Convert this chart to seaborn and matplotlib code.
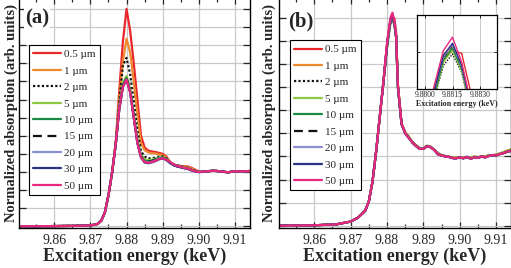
#XAS spectra, grain size comparison (a) and (b) with inset

import numpy as np
import pandas as pd
import seaborn as sns
import matplotlib
matplotlib.use('Agg')
import matplotlib.pyplot as plt
from matplotlib.ticker import MultipleLocator, FormatStrFormatter

sns.set_style('ticks')
plt.rcParams['font.family'] = ['Liberation Serif', 'DejaVu Serif']

sizes = ['0.5 µm', '1 µm', '2 µm', '5 µm', '10 µm', '15 µm', '20 µm', '30 µm', '50 µm']
colors = ['#e8262c', '#f0892e', '#111111', '#8dc63f', '#1b8a44', '#111111', '#8a8fd2', '#2c3282', '#e8287c']
dash_list = ['', '', (1, 1), '', '', (4, 2.5), '', '', '']

# panel (a): energies (keV)
xa_rise = [9.850, 9.855, 9.860, 9.865, 9.868, 9.870, 9.871, 9.872, 9.873, 9.874, 9.875, 9.876]
xa_mid = [9.877, 9.878, 9.879, 9.880, 9.881, 9.882, 9.883, 9.884, 9.885, 9.886, 9.887, 9.888,
          9.889, 9.890, 9.891, 9.892, 9.893, 9.894, 9.895, 9.896, 9.897, 9.898, 9.899, 9.900]
xa_tail = [9.902, 9.904, 9.906, 9.908, 9.910, 9.912, 9.914]

a_rise = [0.0, 0.0, 0.01, 0.02, 0.03, 0.05, 0.08, 0.13, 0.3, 0.75, 1.7, 2.95]
a_tail = [3.03, 3.07, 3.03, 2.98, 3.04, 3.03, 3.05]
a_05 = [4.6, 7.5, 10.2, 12.0, 10.8, 9.0, 7.0, 5.0, 4.35, 4.18, 4.13, 4.1, 4.05, 4.0, 3.85, 3.56, 3.42, 3.36, 3.33, 3.31, 3.3, 3.22, 3.12, 3.03]
a_1 = [4.55, 7.1, 9.1, 10.35, 9.6, 8.0, 6.2, 4.6, 4.2, 4.08, 4.04, 4.02, 3.97, 3.93, 3.8, 3.52, 3.4, 3.34, 3.31, 3.29, 3.26, 3.18, 3.09, 3.02]
a_2 = [4.5, 6.9, 8.9, 9.3, 8.4, 6.9, 5.3, 4.15, 3.85, 3.75, 3.75, 3.8, 3.85, 3.86, 3.75, 3.55, 3.42, 3.36, 3.31, 3.26, 3.21, 3.13, 3.06, 3.0]
a_5 = [4.5, 6.6, 7.9, 8.3, 7.6, 6.2, 4.8, 3.95, 3.7, 3.65, 3.68, 3.74, 3.8, 3.82, 3.72, 3.52, 3.4, 3.33, 3.29, 3.24, 3.19, 3.11, 3.05, 3.0]
a_10 = [4.5, 6.55, 7.8, 8.2, 7.5, 6.1, 4.7, 3.88, 3.62, 3.58, 3.62, 3.7, 3.78, 3.8, 3.7, 3.5, 3.38, 3.31, 3.27, 3.22, 3.18, 3.1, 3.04, 3.0]
a_15 = [4.5, 6.5, 7.75, 8.15, 7.45, 6.05, 4.65, 3.85, 3.6, 3.56, 3.6, 3.68, 3.76, 3.78, 3.69, 3.5, 3.38, 3.31, 3.27, 3.22, 3.18, 3.1, 3.04, 3.0]
a_20 = [4.48, 6.5, 7.7, 8.1, 7.4, 6.0, 4.6, 3.82, 3.56, 3.52, 3.57, 3.64, 3.73, 3.76, 3.68, 3.52, 3.4, 3.31, 3.26, 3.21, 3.17, 3.09, 3.03, 2.99]
a_30 = [4.48, 6.45, 7.7, 8.1, 7.4, 6.0, 4.6, 3.8, 3.52, 3.48, 3.53, 3.6, 3.7, 3.74, 3.66, 3.5, 3.38, 3.3, 3.25, 3.2, 3.16, 3.08, 3.02, 2.99]
a_50 = [4.5, 6.5, 7.7, 8.1, 7.4, 6.0, 4.6, 3.8, 3.55, 3.5, 3.55, 3.62, 3.72, 3.75, 3.68, 3.55, 3.42, 3.33, 3.28, 3.22, 3.18, 3.1, 3.04, 3.0]

# panel (b): energies (keV)
xb_rise = [9.850, 9.860, 9.866, 9.870, 9.872, 9.874, 9.875, 9.876, 9.877, 9.878, 9.879]
xb_peak = [9.8800, 9.8805, 9.8810, 9.8815, 9.8820, 9.8825, 9.8830, 9.8840]
xb_tail = [9.885, 9.886, 9.887, 9.888, 9.889, 9.890, 9.891, 9.892, 9.893, 9.894,
           9.895, 9.896, 9.897, 9.898, 9.899, 9.900, 9.901, 9.902, 9.903, 9.904,
           9.905, 9.906, 9.907, 9.908, 9.909, 9.910, 9.911, 9.912, 9.913, 9.914]

b_rise = [0.0, 0.02, 0.06, 0.18, 0.35, 0.65, 1.05, 1.9, 3.2, 4.7, 6.2]
b_tail = [4.0, 3.8, 3.6, 3.45, 3.33, 3.33, 3.44, 3.4, 3.28, 3.1, 3.04, 3.0, 2.98, 2.93, 2.92,
          2.96, 2.92, 2.98, 2.9, 2.96, 2.94, 3.0, 2.96, 3.02, 3.06, 3.04, 3.1, 3.14, 3.2, 3.24]
b_tail_alt = [4.05, 3.85, 3.62, 3.48, 3.36, 3.36, 3.46, 3.42, 3.3, 3.14, 3.06, 3.02, 2.99, 2.95, 2.95,
              2.93, 2.96, 2.94, 2.95, 2.99, 2.97, 2.98, 3.0, 3.05, 3.04, 3.08, 3.12, 3.18, 3.24, 3.3]
b_05 = [7.8, 8.4, 8.88, 9.02, 8.98, 8.4, 6.1, 4.4]
b_1 = [7.8, 8.45, 8.92, 9.08, 8.8, 8.2, 6.1, 4.45]
b_2 = [7.7, 8.3, 8.8, 8.97, 8.7, 8.1, 6.0, 4.4]
b_5 = [7.7, 8.3, 8.85, 9.03, 8.72, 8.15, 6.0, 4.4]
b_10 = [7.75, 8.35, 8.88, 9.06, 8.75, 8.2, 6.0, 4.4]
b_15 = [7.8, 8.4, 8.92, 9.1, 8.78, 8.2, 6.0, 4.4]
b_20 = [7.8, 8.4, 8.93, 9.11, 8.78, 8.2, 6.0, 4.4]
b_30 = [7.8, 8.42, 8.95, 9.13, 8.8, 8.22, 6.0, 4.4]
b_50 = [7.9, 8.5, 9.02, 9.22, 8.85, 8.25, 6.1, 4.42]

a_mid_all = [a_05, a_1, a_2, a_5, a_10, a_15, a_20, a_30, a_50]
b_peak_all = [b_05, b_1, b_2, b_5, b_10, b_15, b_20, b_30, b_50]
b_tail_all = [b_tail_alt, b_tail_alt, b_tail, b_tail_alt, b_tail, b_tail, b_tail, b_tail, b_tail]

rows_a = []
rows_b = []
for i, s in enumerate(sizes):
    ya = a_rise + a_mid_all[i] + a_tail
    for e, v in zip(xa_rise + xa_mid + xa_tail, ya):
        rows_a.append([s, e, v])
    yb = b_rise + b_peak_all[i] + b_tail_all[i]
    for e, v in zip(xb_rise + xb_peak + xb_tail, yb):
        rows_b.append([s, e, v])
df_a = pd.DataFrame(rows_a, columns=['size', 'energy', 'absorption'])
df_b = pd.DataFrame(rows_b, columns=['size', 'energy', 'absorption'])

palette = dict(zip(sizes, colors))
dashes = dict(zip(sizes, dash_list))

fig = plt.figure(figsize=(5.11, 2.68), dpi=100)
ax_a = fig.add_axes([0.0372, 0.149, 0.452, 0.858])
ax_b = fig.add_axes([0.546, 0.149, 0.454, 0.858])


def style_axes(ax, ymax, label, lab_x, lab_top, ylab_x):
    ax.set_xlim(9.8503, 9.9141)
    ax.set_ylim(-0.1, ymax)
    ax.xaxis.set_major_locator(MultipleLocator(0.01))
    ax.xaxis.set_minor_locator(MultipleLocator(0.005))
    ax.xaxis.set_major_formatter(FormatStrFormatter('%.2f'))
    ax.yaxis.set_major_locator(MultipleLocator(1))
    ax.set_yticklabels([])
    ax.tick_params(which='both', direction='in', top=True, right=True, width=0.9)
    ax.tick_params(axis='x', which='major', length=4, labelsize=10, pad=4)
    ax.tick_params(axis='x', which='minor', length=3)
    ax.tick_params(axis='y', which='major', length=5)
    ax.grid(True, which='major', color='#c9c9c9', lw=0.9)
    ax.set_axisbelow(True)
    for sp in ax.spines.values():
        sp.set_linewidth(1.0)
        sp.set_color('black')
    ax.set_xlabel('Excitation energy (keV)', fontsize=13, fontweight='bold', labelpad=1)
    ax.set_ylabel('Normalized absorption (arb. units)', fontsize=10.5, fontweight='bold')
    ax.yaxis.set_label_coords(ylab_x, 0.5)
    ax.text(lab_x, lab_top, label, transform=ax.transAxes, fontsize=15, fontweight='bold',
            ha='left', va='top', zorder=5,
            bbox=dict(facecolor='white', edgecolor='none', pad=0.5))


def draw(ax, df, lw):
    sns.lineplot(data=df, x='energy', y='absorption', hue='size', style='size',
                 palette=palette, dashes=dashes, hue_order=sizes, style_order=sizes,
                 sort=False, estimator=None, lw=lw, legend=False, ax=ax)


draw(ax_a, df_a, 1.6)
draw(ax_b, df_b, 1.6)
style_axes(ax_a, 12.6, '(a)', 0.026, 0.955, -0.005)
style_axes(ax_b, 9.85, '(b)', 0.039, 0.94, -0.012)

for ax, x0, y0 in [(ax_a, 0.043, 0.796), (ax_b, 0.047, 0.817)]:
    leg = ax.legend(handles=ax.lines[:9], labels=sizes, loc='upper left',
                    bbox_to_anchor=(x0, y0), borderaxespad=0, fontsize=8,
                    handlelength=2.5, handletextpad=0.25, labelspacing=0.6,
                    borderpad=0.4, frameon=True, fancybox=False, framealpha=1,
                    edgecolor='black', facecolor='white')
    leg.get_frame().set_linewidth(0.8)
    leg.set_zorder(6)

# inset of panel (b) peak
ax_in = fig.add_axes([0.816, 0.668, 0.1566, 0.276])
draw(ax_in, df_b, 1.0)
ax_in.set_facecolor('white')
ax_in.set_xlim(9.87956, 9.88393)
ax_in.set_ylim(8.45, 9.55)
ax_in.set_xticks([9.8800, 9.8815, 9.8830])
ax_in.xaxis.set_major_formatter(FormatStrFormatter('%.4f'))
ax_in.set_yticks([9.0])
ax_in.set_yticklabels([])
ax_in.tick_params(which='both', direction='in', top=True, right=True, length=2,
                  labelsize=5.5, pad=1.5, width=0.7)
ax_in.grid(True, color='#c9c9c9', lw=0.7)
ax_in.set_axisbelow(True)
for sp in ax_in.spines.values():
    sp.set_linewidth(0.9)
    sp.set_color('black')
ax_in.set_xlabel('Excitation energy (keV)', fontsize=5.8, fontweight='bold', labelpad=1)
ax_in.set_ylabel('')

fig.savefig('out.png', dpi=100)
